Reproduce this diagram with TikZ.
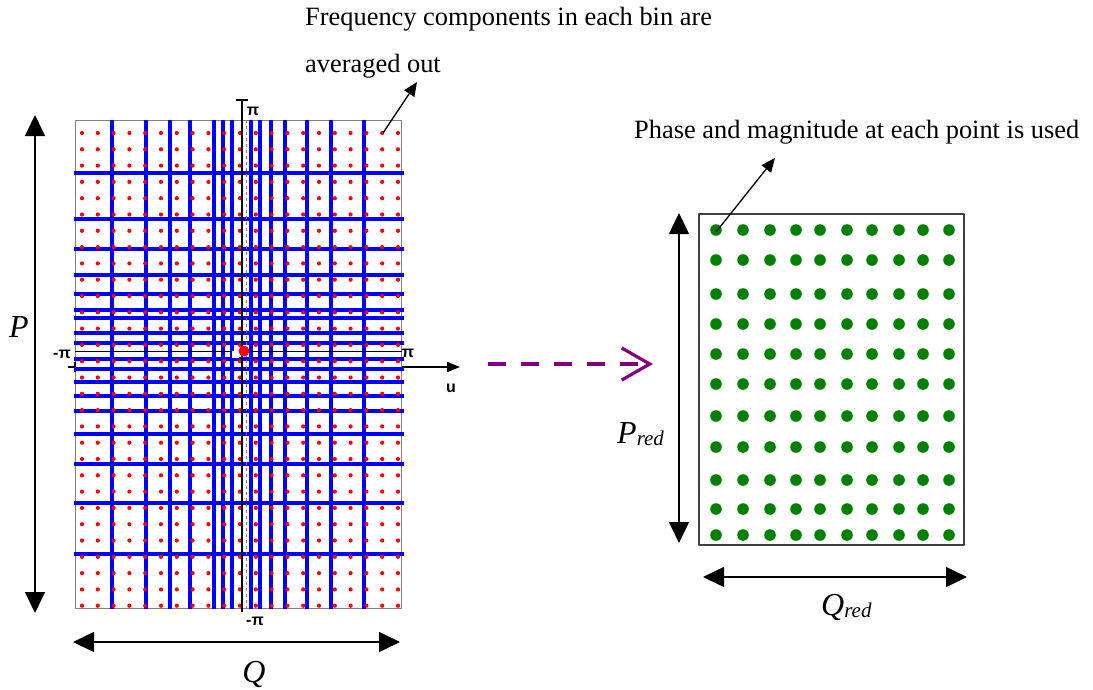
\documentclass[tikz,border=0pt]{standalone}
\usepackage{fontspec}
\setmainfont{Liberation Serif}
\setsansfont{Liberation Sans}
\usetikzlibrary{arrows.meta}
\definecolor{dotgreen}{RGB}{0,128,0}
\definecolor{mappurple}{RGB}{128,0,128}
\newcommand\notefont{\fontsize{26.4}{30}\selectfont}
\newcommand\dimfont{\itshape\fontsize{32}{36}\selectfont}
\newcommand\subfont{\fontsize{21}{21}\selectfont}
\newcommand\axisfont{\sffamily\bfseries\fontsize{16}{18}\selectfont}
\begin{document}
\begin{tikzpicture}[x=1pt,y=-1pt,line join=round,
	dimarrow/.style={line width=1.5pt,{Triangle[length=21pt,width=20pt]}-{Triangle[length=21pt,width=20pt]}},
	notearrow/.style={line width=1.3pt,-{Triangle[length=14pt,width=12pt]}},
	binline/.style={blue,line width=3.4pt},
	axislabel/.style={font=\axisfont,inner sep=0pt},
	dimlabel/.style={font=\dimfont,inner sep=0pt},
	note/.style={font=\notefont,inner sep=0pt,anchor=base west}]
\useasboundingbox (0,0) rectangle (1093,689);
\path
(75,120) coordinate (gridNW)
(401,608) coordinate (gridSE)
(68,367) coordinate (uleft)
(75,367) coordinate (uin)
(402,367) coordinate (uright)
(460,367) coordinate (uend)
(242,100) coordinate (vtop)
(242,612) coordinate (vbot)
(35,115) coordinate (Ptop)
(35,613) coordinate (Pbot)
(73,642) coordinate (Qleft)
(400,642) coordinate (Qright)
(699,214) coordinate (redNW)
(964,545) coordinate (redSE)
(679,213) coordinate (PredTop)
(679,543) coordinate (PredBot)
(703,577) coordinate (QredLeft)
(967,577) coordinate (QredRight)
(488,364) coordinate (mapstart)
(653,364) coordinate (mapend)
(383,133) coordinate (binpt)
(417,82) coordinate (bintip)
(716,232) coordinate (phasept)
(775,158) coordinate (phasetip)
;
% left spectrum with bins
\draw[gray,line width=1pt] (gridNW) rectangle (gridSE);
\draw[line width=2pt] (uleft) -- (uin);
\draw[line width=1.5pt] (75,362) -- (75,372);
\draw[line width=2pt,-{Triangle[length=13pt,width=10pt]}] (uright) -- (uend);
\foreach \x in {112,146,170,190,214,223,232,251,260,271,285,307,331,364}
	\draw[binline] (\x,120) -- (\x,609);
\foreach \y in {173,219,249,275,294,310,318,333,343,359,369,382,396,411,434,464,503,554}
	\draw[binline] (74,\y) -- (404,\y);
\foreach \i in {0,...,20}
	\foreach \j in {0,...,29}
		\fill[red] ({82+15.8*\i},{133+16.3*\j}) circle (2.1pt);
\draw[gray,dashed,line width=0.6pt] (246,120) -- (246,608);
\draw[line width=0.6pt] (75,351) -- (402,351);
\draw[line width=2.5pt] (vtop) -- (vbot);
\draw[line width=1.5pt] (236,100) -- (248,100);
\fill[white] (232,351) rectangle (239,358);
\fill[red] (244,351) circle (5.5pt);
\node[axislabel] (pitop) at (253,111) {π};
\node[axislabel] (pibot) at (255,621) {-π};
\node[axislabel] (pileft) at (62,354) {-π};
\node[axislabel] (piright) at (408,353) {π};
\node[axislabel] (ulab) at (451,388) {u};
% dimensions
\draw[dimarrow] (Ptop) -- (Pbot);
\draw[dimarrow] (Qleft) -- (Qright);
\node[dimlabel,anchor=base] (Plab) at (19,337) {P};
\node[dimlabel,anchor=base] (Qlab) at (254,682) {Q};
% notes
\node[note] (binnote) at (305,25) {Frequency components in each bin are};
\node[note] (binnote2) at (305,72) {averaged out};
\draw[notearrow] (binpt) -- (bintip);
\node[note] (phasenote) at (634,138) {Phase and magnitude at each point is used};
% reduced grid
\draw[black!75,line width=2.5pt] (redNW) rectangle (redSE);
\foreach \x in {716,743,770,796,820,847,872,899,923,949}
	\foreach \y in {230,260,294,324,354,384,416,447,480,509,535}
		\fill[dotgreen] (\x,\y) circle (5.8pt);
\draw[notearrow] (phasept) -- (phasetip);
\draw[dimarrow] (PredTop) -- (PredBot);
\draw[dimarrow] (QredLeft) -- (QredRight);
\node[dimlabel,anchor=base west] (Predlab) at (617,443) {P\raisebox{-2pt}{\subfont red}};
\node[dimlabel,anchor=base west] (Qredlab) at (821,615) {Q\raisebox{-2pt}{\subfont red}};
% mapping
\draw[mappurple,line width=3.2pt,dash pattern=on 18pt off 15pt,-{Straight Barb[length=28pt,width=32pt]}] (mapstart) -- (mapend);
\end{tikzpicture}
\end{document}
